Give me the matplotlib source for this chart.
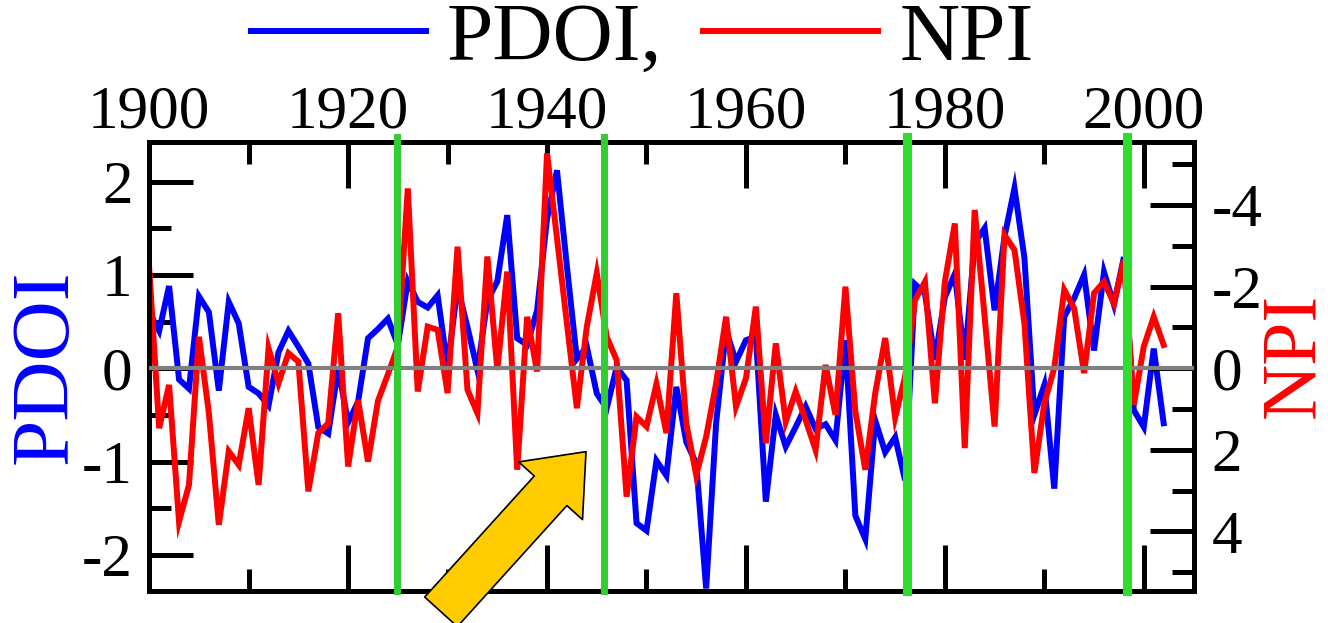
import matplotlib
matplotlib.use("Agg")
import matplotlib.pyplot as plt
import numpy as np
from matplotlib.patches import FancyArrowPatch, ArrowStyle
from matplotlib.ticker import MultipleLocator, FixedLocator

plt.rcParams['font.family'] = ['Liberation Serif', 'DejaVu Serif']
plt.rcParams['axes.unicode_minus'] = False

years = list(range(1900, 2003))

pdoi = [0.60, 0.40, 0.88, -0.12, -0.22, 0.77, 0.60, -0.24, 0.71, 0.48,
        -0.20, -0.27, -0.40, 0.17, 0.40, 0.23, 0.05, -0.63, -0.70, 0.00,
        -0.58, -0.36, 0.32, 0.42, 0.53, 0.25, 0.93, 0.71, 0.65, 0.78,
        0.01, 0.87, 0.44, -0.02, 0.72, 0.93, 1.64, 0.32, 0.25, 0.62,
        1.60, 2.12, 1.09, 0.10, 0.23, -0.27, -0.43, 0.01, -0.13, -1.66,
        -1.74, -0.99, -1.15, -0.20, -0.79, -1.02, -2.36, -0.59, 0.41, 0.07,
        0.30, 0.34, -1.43, -0.50, -0.84, -0.63, -0.41, -0.65, -0.60, -0.77,
        0.30, -1.58, -1.83, -0.56, -0.90, -0.74, -1.20, 0.90, 0.80, 0.09,
        0.76, 1.01, 0.09, 1.34, 1.50, 0.62, 1.41, 1.93, 1.18, -0.50,
        -0.18, -1.29, 0.55, 0.75, 1.00, 0.19, 1.03, 0.68, 1.19, -0.45,
        -0.63, 0.21, -0.59]

npi = [-2.45, 1.47, 0.41, 3.76, 2.86, -0.77, 1.10, 3.84, 2.04, 2.37,
       0.98, 2.86, -0.49, 0.37, -0.37, -0.16, 3.02, 1.59, 1.35, -1.35,
       2.41, 0.78, 2.29, 0.80, 0.15, -0.53, -4.41, 0.57, -1.02, -0.94,
       0.61, -2.98, 0.53, 1.10, -2.74, 0.04, -2.37, 2.49, -1.26, 0.08,
       -5.27, -3.19, -1.10, 0.98, -1.02, -2.33, -0.77, -0.20, 3.15, 1.19,
       1.43, 0.39, 1.59, -1.84, 1.35, 2.62, 1.68, 0.37, -1.26, 0.94,
       0.25, -1.51, 1.84, -0.61, 1.31, 0.57, 1.27, 2.00, -0.08, 1.14,
       -2.00, 1.06, 2.49, 0.61, -0.74, 1.21, 0.21, -1.67, -2.12, 0.86,
       -2.12, -3.55, 1.96, -3.88, -1.26, 1.43, -3.27, -2.90, -1.10, 2.57,
       0.86, 0.00, -1.92, -1.47, 0.12, -1.84, -2.12, -1.59, -2.65, 0.90,
       -0.53, -1.26, -0.57]

regime_shifts = [1924.9, 1945.7, 1976.2, 1998.35]
shift_colors = ['#33cc33', '#33cc33', '#2edd2e', '#2edd2e']
shift_widths = [5.0, 5.0, 6.5, 6.5]

year_ticks = [1900, 1920, 1940, 1960, 1980, 2000]
pdoi_ticks = [-2, -1, 0, 1, 2]
npi_ticks = [-4, -2, 0, 2, 4]

W, H = 1328, 623
fig = plt.figure(figsize=(W / 100, H / 100), dpi=100)
L, R, T, B = 149.2, 1193.5, 142.3, 591.3
ax = fig.add_axes([L / W, 1 - B / H, (R - L) / W, (B - T) / H])
ax2 = ax.twinx()

lb, = ax.plot(years, pdoi, color='#0000ff', lw=4.3, solid_joinstyle='miter', zorder=2)
lr, = ax2.plot(years, npi, color='#ff0000', lw=4.3, solid_joinstyle='miter', zorder=2)

ax2.axhline(0, color='#808080', lw=3, zorder=3)
for xs, c, w in zip(regime_shifts, shift_colors, shift_widths):
    ax2.axvline(xs, ymin=0.0, ymax=1.012, color=c, lw=w, zorder=4, clip_on=False)

ax.set_xlim(1900, 2005)
ax.set_ylim(-2.39, 2.42)
ax2.set_ylim(5.47, -5.54)

ax.xaxis.set_major_locator(FixedLocator(year_ticks))
ax.xaxis.set_minor_locator(MultipleLocator(10))
ax.yaxis.set_major_locator(FixedLocator(pdoi_ticks))
ax.yaxis.set_minor_locator(MultipleLocator(0.5))
ax2.yaxis.set_major_locator(FixedLocator(npi_ticks))
ax2.yaxis.set_minor_locator(MultipleLocator(1))

ax.tick_params(axis='x', which='both', direction='in', top=True, bottom=True,
               labeltop=True, labelbottom=False, width=3.6, labelsize=44, pad=1)
ax.tick_params(axis='x', which='major', length=33)
ax.tick_params(axis='x', which='minor', length=16)
ax.tick_params(axis='y', which='both', direction='in', left=True, right=False,
               width=3.6, labelsize=44, pad=12)
ax.tick_params(axis='y', which='major', length=32)
ax.tick_params(axis='y', which='minor', length=16)
ax2.tick_params(axis='y', which='both', direction='in', right=True, left=False,
                width=3.6, labelsize=44, pad=13)
ax2.tick_params(axis='y', which='major', length=32)
ax2.tick_params(axis='y', which='minor', length=16)

for a in (ax, ax2):
    for s in a.spines.values():
        s.set_linewidth(3.6)
        s.set_color('black')

ax.set_ylabel('PDOI', color='#0000ff', fontsize=60, rotation=90,
              va='center', ha='center', rotation_mode='anchor')
ax.yaxis.set_label_coords((47 - L) / (R - L), 0.5)
ax2.set_ylabel('NPI', color='#ff0000', fontsize=56, rotation=90,
               va='baseline', ha='center', rotation_mode='anchor')
ax2.yaxis.set_label_coords((1313 - L) / (R - L), 1 - (355 - T) / (B - T))

fig.legend(handles=[lb, lr], labels=['PDOI,', 'NPI'], ncol=2, loc='center',
           bbox_to_anchor=(642 / W, 1 - 40 / H), frameon=False, fontsize=60,
           handlelength=2.1, handletextpad=0.25, columnspacing=0.5,
           borderpad=0, borderaxespad=0)

arrow = FancyArrowPatch(posA=(1929.34, -2.61), posB=(1943.92, -0.894),
                        transform=ax.transData,
                        arrowstyle=ArrowStyle.Simple(head_length=38, head_width=62, tail_width=31.7),
                        mutation_scale=1, shrinkA=0, shrinkB=0,
                        fc='#ffcc00', ec='black', lw=1.2, zorder=10, clip_on=False)
fig.add_artist(arrow)

fig.savefig('out.png', dpi=100)
